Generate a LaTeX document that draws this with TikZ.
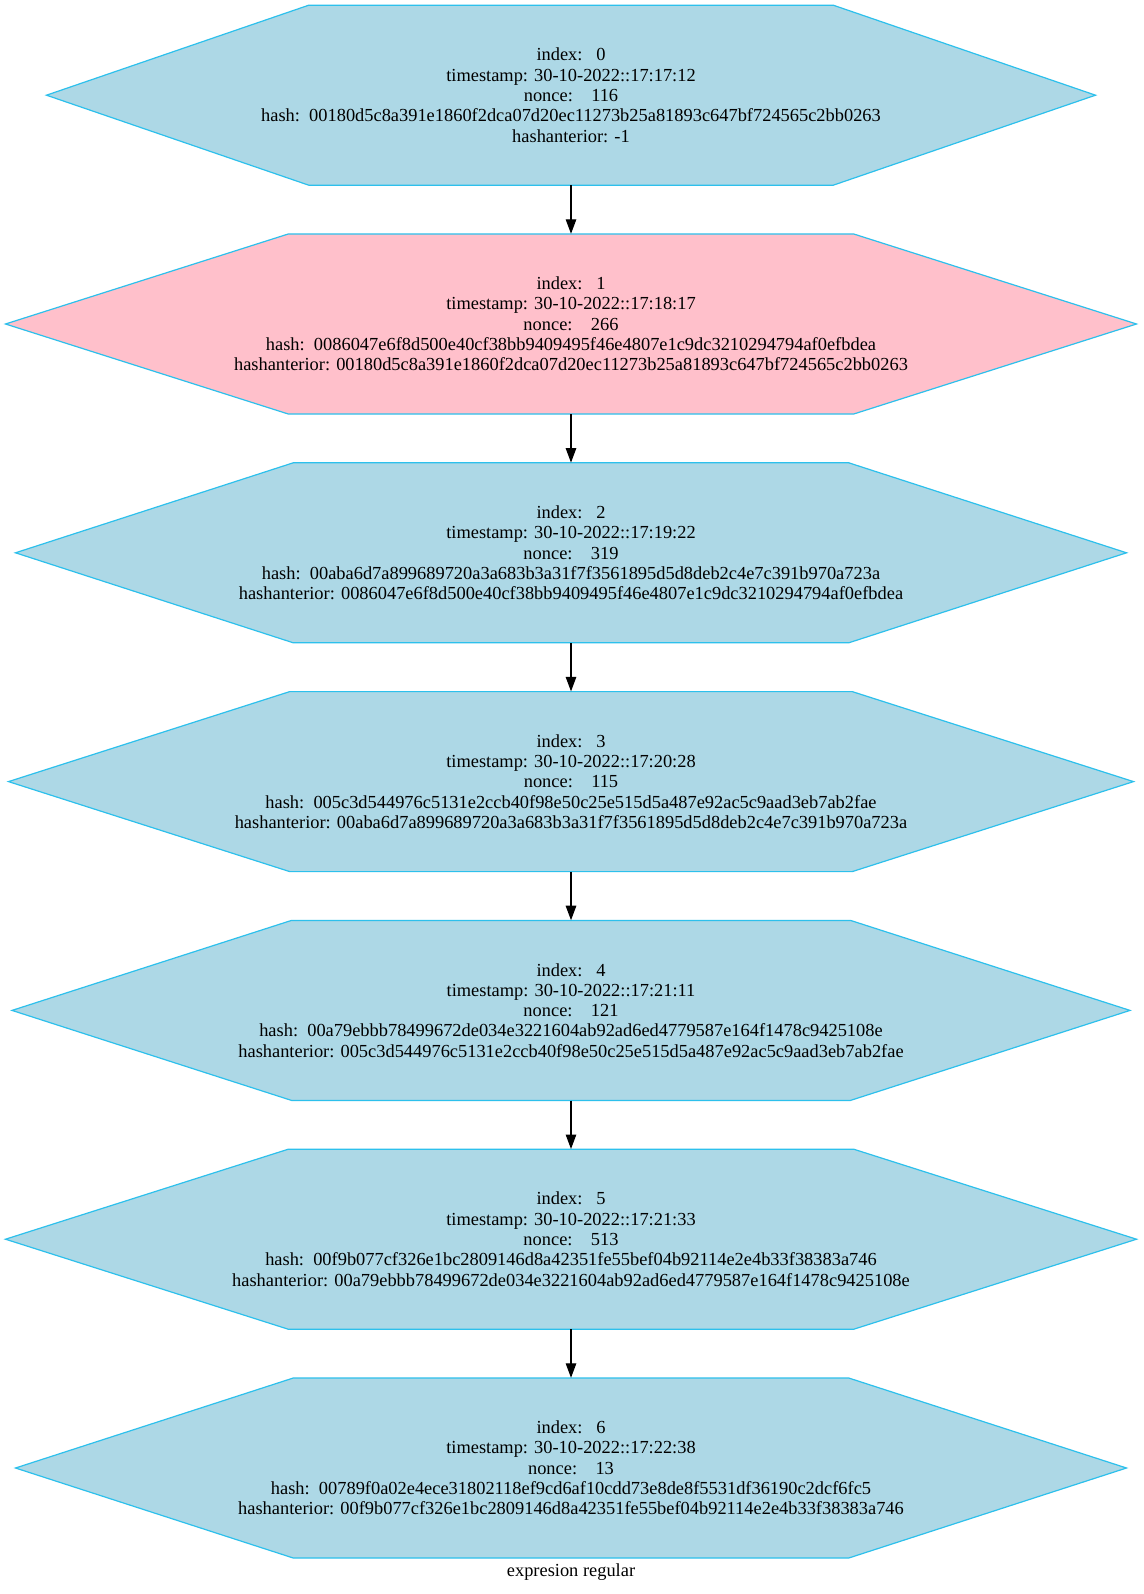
\documentclass[tikz,border=0pt]{standalone}
\usepackage{fontspec}
\setmainfont{Liberation Serif}
\usetikzlibrary{arrows.meta}
\definecolor{hexblue}{HTML}{ADD8E6}
\definecolor{hexpink}{HTML}{FFC0CB}
\definecolor{hexedge}{RGB}{45,192,236}
\tikzset{
  hexline/.style={draw=hexedge, line width=1.2pt, line join=miter},
  blocktext/.style={draw=none, align=center, inner sep=0pt, font=\fontsize{18.4}{20.3}\selectfont},
  arr/.style={draw=black, line width=1.2pt, -{Triangle[length=14.5pt,width=10.5pt]}, shorten >=0pt},
}
\newcommand{\hexblock}[5]{%
  \filldraw[hexline, fill=#4] ({571-#3/2},#2) -- ({571-#3/4},{#2-90}) -- ({571+#3/4},{#2-90}) -- ({571+#3/2},#2) -- ({571+#3/4},{#2+90}) -- ({571-#3/4},{#2+90}) -- cycle;%
  \node[blocktext, minimum width={#3/2}, minimum height=180] (#1) at (571,#2) {#5};%
}
\begin{document}
\begin{tikzpicture}[x=1pt,y=-1pt]
\useasboundingbox[fill=white] (0,0) rectangle (1143,1594);
\hexblock{n0}{95.2}{1049}{hexblue}{index:\ \ \ 0\\timestamp: 30-10-2022::17:17:12\\nonce:\ \ \ \ 116\\hash:\ \ 00180d5c8a391e1860f2dca07d20ec11273b25a81893c647bf724565c2bb0263\\hashanterior: -1}
\hexblock{n1}{324.0}{1131}{hexpink}{index:\ \ \ 1\\timestamp: 30-10-2022::17:18:17\\nonce:\ \ \ \ 266\\hash:\ \ 0086047e6f8d500e40cf38bb9409495f46e4807e1c9dc3210294794af0efbdea\\hashanterior: 00180d5c8a391e1860f2dca07d20ec11273b25a81893c647bf724565c2bb0263}
\hexblock{n2}{552.8}{1111}{hexblue}{index:\ \ \ 2\\timestamp: 30-10-2022::17:19:22\\nonce:\ \ \ \ 319\\hash:\ \ 00aba6d7a899689720a3a683b3a31f7f3561895d5d8deb2c4e7c391b970a723a\\hashanterior: 0086047e6f8d500e40cf38bb9409495f46e4807e1c9dc3210294794af0efbdea}
\hexblock{n3}{781.6}{1125}{hexblue}{index:\ \ \ 3\\timestamp: 30-10-2022::17:20:28\\nonce:\ \ \ \ 115\\hash:\ \ 005c3d544976c5131e2ccb40f98e50c25e515d5a487e92ac5c9aad3eb7ab2fae\\hashanterior: 00aba6d7a899689720a3a683b3a31f7f3561895d5d8deb2c4e7c391b970a723a}
\hexblock{n4}{1010.4}{1118}{hexblue}{index:\ \ \ 4\\timestamp: 30-10-2022::17:21:11\\nonce:\ \ \ \ 121\\hash:\ \ 00a79ebbb78499672de034e3221604ab92ad6ed4779587e164f1478c9425108e\\hashanterior: 005c3d544976c5131e2ccb40f98e50c25e515d5a487e92ac5c9aad3eb7ab2fae}
\hexblock{n5}{1239.2}{1131}{hexblue}{index:\ \ \ 5\\timestamp: 30-10-2022::17:21:33\\nonce:\ \ \ \ 513\\hash:\ \ 00f9b077cf326e1bc2809146d8a42351fe55bef04b92114e2e4b33f38383a746\\hashanterior: 00a79ebbb78499672de034e3221604ab92ad6ed4779587e164f1478c9425108e}
\hexblock{n6}{1468.0}{1111}{hexblue}{index:\ \ \ 6\\timestamp: 30-10-2022::17:22:38\\nonce:\ \ \ \ 13\\hash:\ \ 00789f0a02e4ece31802118ef9cd6af10cdd73e8de8f5531df36190c2dcf6fc5\\hashanterior: 00f9b077cf326e1bc2809146d8a42351fe55bef04b92114e2e4b33f38383a746}
\draw[arr] (n0.south) -- (n1.north);
\draw[arr] (n1.south) -- (n2.north);
\draw[arr] (n2.south) -- (n3.north);
\draw[arr] (n3.south) -- (n4.north);
\draw[arr] (n4.south) -- (n5.north);
\draw[arr] (n5.south) -- (n6.north);
\node[blocktext] (lbl) at (571,1572) {expresion regular};
\end{tikzpicture}
\end{document}
